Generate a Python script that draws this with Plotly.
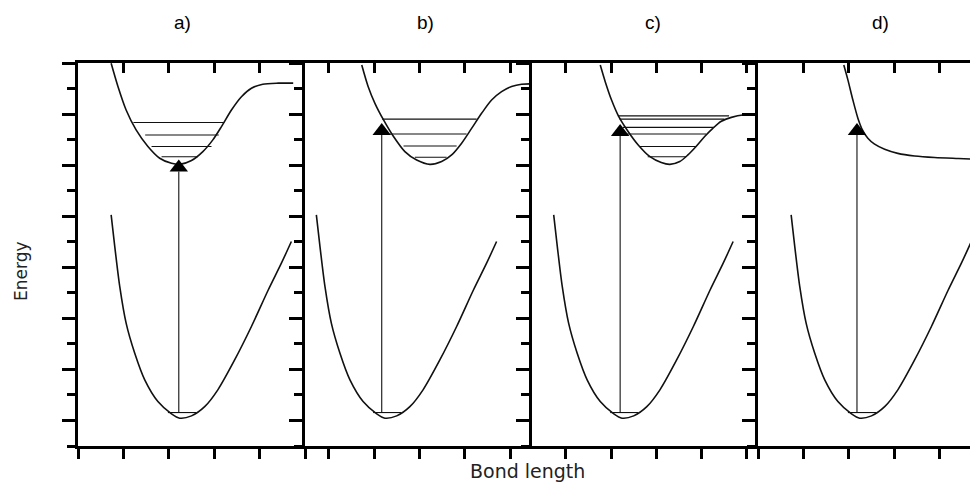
import plotly.graph_objects as go

# ---------------- data (arbitrary units: bond length / energy) ----------------
panel_titles = ["a)", "b)", "c)", "d)"]
x_ranges = [[0.0, 5.0], [0.48, 5.48], [0.25, 5.25], [0.0, 4.846]]

# ground-state potential (same in every panel)
ground_x = [0.73, 0.81, 0.92, 1.06, 1.25, 1.47, 1.76, 2.06, 2.24, 2.50, 2.79, 3.08, 3.45, 3.82, 4.19, 4.48, 4.70]
ground_y = [9.05, 7.81, 6.24, 4.81, 3.63, 2.59, 1.74, 1.26, 1.09, 1.18, 1.54, 2.20, 3.37, 4.68, 6.11, 7.16, 8.01]
ground_level_x = [1.98, 2.60]
ground_level_y = 1.31

# excited-state potentials
upper_a_x = [0.73, 0.88, 1.06, 1.28, 1.54, 1.80, 2.06, 2.24, 2.50, 2.75, 2.97, 3.16, 3.38, 3.60, 3.82, 4.07, 4.41, 4.74]
upper_a_y = [14.99, 14.08, 13.16, 12.38, 11.73, 11.27, 11.07, 11.03, 11.18, 11.53, 11.99, 12.51, 13.16, 13.68, 14.01, 14.17, 14.21, 14.21]
upper_b_x = [1.73, 1.87, 2.02, 2.21, 2.43, 2.68, 2.94, 3.23, 3.49, 3.71, 3.93, 4.15, 4.37, 4.59, 4.81, 5.03, 5.25, 5.51]
upper_b_y = [14.92, 14.08, 13.42, 12.77, 12.12, 11.53, 11.20, 11.03, 11.14, 11.40, 11.86, 12.44, 13.03, 13.55, 13.88, 14.08, 14.17, 14.18]
upper_c_x = [1.76, 1.87, 2.01, 2.17, 2.38, 2.60, 2.86, 3.11, 3.30, 3.52, 3.70, 3.88, 4.07, 4.25, 4.43, 4.66, 4.95, 5.32]
upper_c_y = [14.92, 14.27, 13.55, 12.90, 12.31, 11.79, 11.33, 11.10, 11.03, 11.14, 11.40, 11.73, 12.12, 12.44, 12.71, 12.87, 12.97, 12.99]
upper_d_x = [1.89, 1.98, 2.09, 2.20, 2.30, 2.42, 2.56, 2.79, 3.08, 3.45, 3.89, 4.41, 4.85]
upper_d_y = [14.92, 14.34, 13.55, 12.84, 12.38, 12.05, 11.83, 11.62, 11.46, 11.36, 11.30, 11.26, 11.23]

# vibrational levels of the excited state
levels_a_y = [12.67, 12.18, 11.73, 11.33]
levels_a_x0 = [1.22, 1.48, 1.62, 1.84]
levels_a_x1 = [3.22, 3.10, 2.94, 2.64]
levels_b_y = [12.80, 12.22, 11.75, 11.31]
levels_b_x0 = [2.18, 2.35, 2.65, 2.90]
levels_b_x1 = [4.26, 4.04, 3.82, 3.60]
levels_c_y = [12.93, 12.80, 12.48, 12.22, 11.73, 11.33]
levels_c_x0 = [2.15, 2.19, 2.26, 2.34, 2.63, 2.81]
levels_c_x1 = [4.61, 4.50, 4.28, 4.10, 3.88, 3.66]
levels_d_y = []
levels_d_x0 = []
levels_d_x1 = []

# excitation arrows
arrow_x = [2.22, 2.17, 2.20, 2.18]
arrow_top = [10.75, 12.18, 12.14, 12.18]

upper_x = [upper_a_x, upper_b_x, upper_c_x, upper_d_x]
upper_y = [upper_a_y, upper_b_y, upper_c_y, upper_d_y]
levels_y = [levels_a_y, levels_b_y, levels_c_y, levels_d_y]
levels_x0 = [levels_a_x0, levels_b_x0, levels_c_x0, levels_d_x0]
levels_x1 = [levels_a_x1, levels_b_x1, levels_c_x1, levels_d_x1]

# ---------------- figure ----------------
OFF = 8  # page body margin
W, H = 978 - OFF, 483 - OFF
left_px = [78, 305, 532, 758]
right_px = [305, 532, 758, 978]
top_px, bot_px = 63, 446


def px_x(p):
    return (p - OFF) / W


def px_y(p):
    return 1 - (p - OFF) / H


fig = go.Figure()
CURVE = dict(color="#111111", width=1.6)
THIN = dict(color="#111111", width=1.1)

for i in range(4):
    xa = "x" if i == 0 else f"x{i+1}"
    ya = "y" if i == 0 else f"y{i+1}"
    fig.add_trace(go.Scatter(x=ground_x, y=ground_y, mode="lines", line=dict(shape="spline", smoothing=0.8, **CURVE),
                             xaxis=xa, yaxis=ya, hoverinfo="skip"))
    fig.add_trace(go.Scatter(x=ground_level_x, y=[ground_level_y] * 2, mode="lines", line=THIN,
                             xaxis=xa, yaxis=ya, hoverinfo="skip"))
    fig.add_trace(go.Scatter(x=upper_x[i], y=upper_y[i], mode="lines", line=dict(shape="spline", smoothing=0.8, **CURVE),
                             xaxis=xa, yaxis=ya, hoverinfo="skip"))
    lx, ly = [], []
    for yv, a, b in zip(levels_y[i], levels_x0[i], levels_x1[i]):
        lx += [a, b, None]
        ly += [yv, yv, None]
    if lx:
        fig.add_trace(go.Scatter(x=lx, y=ly, mode="lines", line=THIN, xaxis=xa, yaxis=ya, hoverinfo="skip"))
    fig.add_trace(go.Scatter(x=[arrow_x[i], arrow_x[i]], y=[ground_level_y, arrow_top[i]], mode="lines", line=THIN,
                             xaxis=xa, yaxis=ya, hoverinfo="skip"))
    fig.add_trace(go.Scatter(x=[arrow_x[i]], y=[arrow_top[i] + 0.16], mode="markers",
                             marker=dict(symbol="triangle-up", size=16, color="black", line=dict(width=0)),
                             xaxis=xa, yaxis=ya, hoverinfo="skip", cliponaxis=False))

ydom = [px_y(bot_px), px_y(top_px)]
layout = dict(width=W, height=H, margin=dict(l=0, r=0, t=0, b=0), showlegend=False,
              paper_bgcolor="white", plot_bgcolor="white")

AX_COLOR = "black"
for i in range(4):
    n = "" if i == 0 else str(i + 1)
    dom = [px_x(left_px[i]), min(1.0, px_x(right_px[i]))]
    layout[f"xaxis{n}"] = dict(domain=dom, range=x_ranges[i], anchor=f"y{n}", showgrid=False, zeroline=False,
                               showticklabels=False, showline=True, linecolor=AX_COLOR, linewidth=2.5,
                               ticks="outside", ticklen=10, tickwidth=2.5, tickcolor=AX_COLOR,
                               tickmode="linear", tick0=0, dtick=1)
    layout[f"xaxis{i+5}"] = dict(domain=dom, range=x_ranges[i], anchor=f"y{n}", overlaying=f"x{n}", side="top",
                                 showgrid=False, zeroline=False, showticklabels=False, showline=True,
                                 linecolor=AX_COLOR, linewidth=2.5, ticks="inside", ticklen=10, tickwidth=2.5,
                                 tickcolor=AX_COLOR, tickmode="linear", tick0=0, dtick=1)
    layout[f"yaxis{n}"] = dict(domain=ydom, range=[0, 15], anchor=f"x{n}", showgrid=False, zeroline=False,
                               showticklabels=False, showline=True, linecolor=AX_COLOR, linewidth=2.5,
                               ticks="outside", ticklen=13, tickwidth=2.5, tickcolor=AX_COLOR,
                               tickmode="linear", tick0=1, dtick=2,
                               minor=dict(ticks="outside", ticklen=8, tickwidth=2.5, tickcolor=AX_COLOR,
                                          tickmode="linear", tick0=0, dtick=1))
layout["yaxis5"] = dict(domain=ydom, range=[0, 15], anchor="x4", overlaying="y4", side="right", showgrid=False,
                        zeroline=False, showticklabels=False, showline=False, ticks="inside", ticklen=8,
                        tickwidth=2.5, tickcolor=AX_COLOR, tickmode="linear", tick0=1, dtick=2,
                        minor=dict(ticks="inside", ticklen=3, tickwidth=2.5, tickcolor=AX_COLOR,
                                   tickmode="linear", tick0=0, dtick=1))
fig.update_layout(**layout)

for i in range(4):
    fig.add_trace(go.Scatter(x=[None], y=[None], xaxis=f"x{i+5}", yaxis="y" if i == 0 else f"y{i+1}",
                             hoverinfo="skip", showlegend=False))
fig.add_trace(go.Scatter(x=[None], y=[None], xaxis="x4", yaxis="y5", hoverinfo="skip", showlegend=False))

title_x = [182, 425, 653, 880]
for t, px in zip(panel_titles, title_x):
    fig.add_annotation(text=t, x=px_x(px), y=px_y(22), xref="paper", yref="paper", showarrow=False,
                       xanchor="center", yanchor="middle",
                       font=dict(family="Liberation Sans", size=19, color="black"))
fig.add_annotation(text="Bond length", x=px_x(527), y=px_y(471), xref="paper", yref="paper", showarrow=False,
                   xanchor="center", yanchor="middle",
                   font=dict(family="DejaVu Sans", size=19, color="#222222"))
fig.add_annotation(text="Energy", x=px_x(21), y=px_y(271), xref="paper", yref="paper", showarrow=False,
                   xanchor="center", yanchor="middle", textangle=-90,
                   font=dict(family="DejaVu Sans", size=17, color="#222222"))

fig.write_html("out.html", config={"displayModeBar": False})
